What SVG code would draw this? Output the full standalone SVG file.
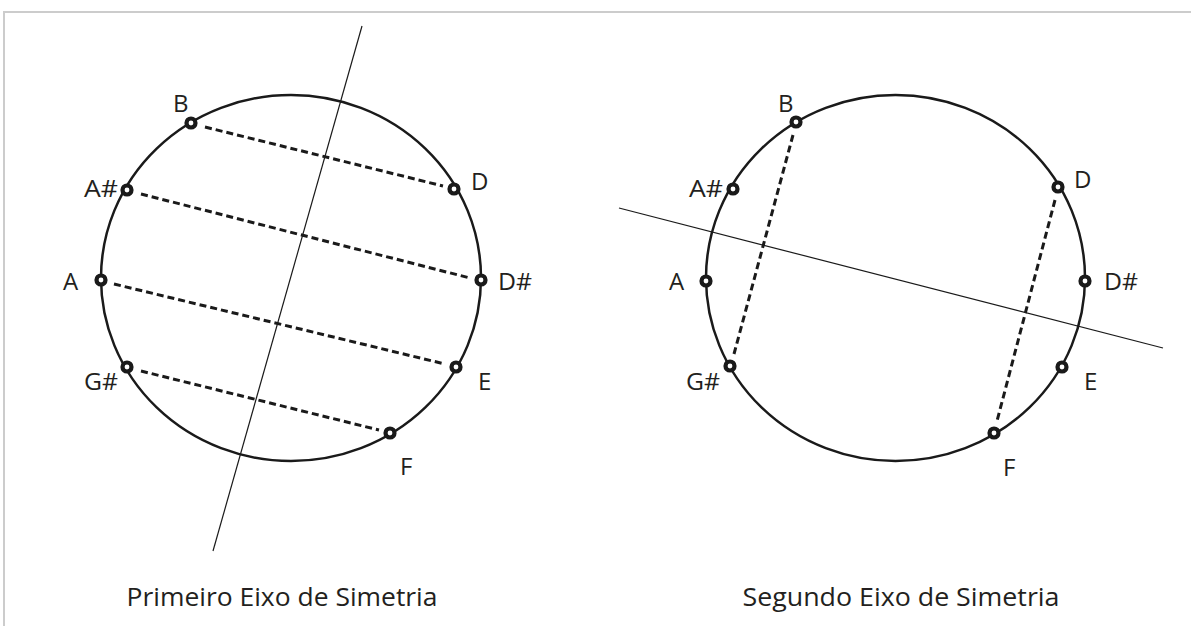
<svg xmlns="http://www.w3.org/2000/svg" width="1191" height="626" viewBox="0 0 1191 626">
<style>
.ring{fill:none;stroke:#1a1a1a;stroke-width:2.5}
.axis{stroke:#1a1a1a;stroke-width:1.2;fill:none}
.dash{stroke:#1a1a1a;stroke-width:3;stroke-dasharray:7 4;fill:none}
.node{fill:#fff;stroke:#1a1a1a;stroke-width:4.2}
.lbl{font-family:"Open Sans","Noto Sans",sans-serif;font-size:24px;fill:#231f20}
.cap{font-family:"Open Sans","Noto Sans",sans-serif;font-size:25px;fill:#231f20;text-anchor:middle}
</style>
<rect width="1191" height="626" fill="#fff"/>
<path d="M4,626 V12 H1191" fill="none" stroke="#cccccc" stroke-width="2"/>

<g id="diagram1">
<ellipse class="ring" cx="291" cy="278" rx="190" ry="183"/>
<g id="connectors1">
<line class="axis" x1="362" y1="26" x2="213" y2="551"/>
<line class="dash" x1="205" y1="127" x2="443" y2="186"/>
<line class="dash" x1="141" y1="194" x2="470" y2="278"/>
<line class="dash" x1="114" y1="284" x2="445" y2="364"/>
<line class="dash" x1="141" y1="371" x2="379" y2="430"/>
</g>
<g id="n1-B"><circle class="node" cx="191" cy="123" r="4.5"/><text class="lbl" x="173" y="112">B</text></g>
<g id="n1-As"><circle class="node" cx="127" cy="190" r="4.5"/><text class="lbl" x="84" y="197" textLength="34" lengthAdjust="spacingAndGlyphs">A#</text></g>
<g id="n1-A"><circle class="node" cx="101" cy="280" r="4.5"/><text class="lbl" x="63" y="290">A</text></g>
<g id="n1-Gs"><circle class="node" cx="127" cy="367" r="4.5"/><text class="lbl" x="84" y="390" textLength="34" lengthAdjust="spacingAndGlyphs">G#</text></g>
<g id="n1-F"><circle class="node" cx="390" cy="433" r="4.5"/><text class="lbl" x="400" y="475">F</text></g>
<g id="n1-E"><circle class="node" cx="456" cy="367" r="4.5"/><text class="lbl" x="478" y="390">E</text></g>
<g id="n1-Ds"><circle class="node" cx="481" cy="280" r="4.5"/><text class="lbl" x="498" y="290" textLength="34" lengthAdjust="spacingAndGlyphs">D#</text></g>
<g id="n1-D"><circle class="node" cx="454" cy="189" r="4.5"/><text class="lbl" x="471" y="190">D</text></g>
<text class="cap" x="282" y="606" textLength="311" lengthAdjust="spacingAndGlyphs">Primeiro Eixo de Simetria</text>
</g>

<g id="diagram2">
<ellipse class="ring" cx="895.5" cy="278" rx="189.5" ry="183"/>
<g id="connectors2">
<line class="axis" x1="619" y1="208" x2="1163" y2="348"/>
<line class="dash" x1="793" y1="135" x2="734" y2="354"/>
<line class="dash" x1="1055" y1="200" x2="997" y2="421"/>
</g>
<g id="n2-B"><circle class="node" cx="796" cy="122" r="4.5"/><text class="lbl" x="778" y="112">B</text></g>
<g id="n2-As"><circle class="node" cx="733" cy="189" r="4.5"/><text class="lbl" x="689" y="197" textLength="34" lengthAdjust="spacingAndGlyphs">A#</text></g>
<g id="n2-A"><circle class="node" cx="706" cy="281" r="4.5"/><text class="lbl" x="669" y="290">A</text></g>
<g id="n2-Gs"><circle class="node" cx="730" cy="366" r="4.5"/><text class="lbl" x="686" y="390" textLength="34" lengthAdjust="spacingAndGlyphs">G#</text></g>
<g id="n2-F"><circle class="node" cx="994" cy="433" r="4.5"/><text class="lbl" x="1003" y="476">F</text></g>
<g id="n2-E"><circle class="node" cx="1062" cy="367" r="4.5"/><text class="lbl" x="1084" y="390">E</text></g>
<g id="n2-Ds"><circle class="node" cx="1085" cy="281" r="4.5"/><text class="lbl" x="1104" y="290" textLength="34" lengthAdjust="spacingAndGlyphs">D#</text></g>
<g id="n2-D"><circle class="node" cx="1058" cy="187" r="4.5"/><text class="lbl" x="1074" y="188">D</text></g>
<text class="cap" x="901" y="606" textLength="317" lengthAdjust="spacingAndGlyphs">Segundo Eixo de Simetria</text>
</g>
</svg>
